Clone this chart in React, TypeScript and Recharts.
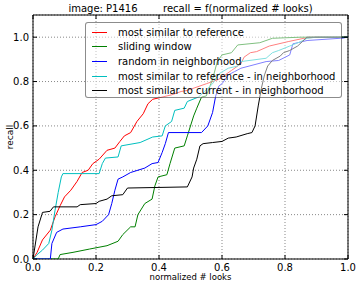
import React from 'react';
import {
  LineChart,
  Line,
  XAxis,
  YAxis,
  CartesianGrid,
  ReferenceArea,
  ReferenceLine,
} from 'recharts';

const TICKS = [0, 0.2, 0.4, 0.6, 0.8, 1.0];

const refX = [0, 0.013, 0.03, 0.055, 0.07, 0.086, 0.1, 0.12, 0.14, 0.156, 0.175, 0.19, 0.21, 0.235, 0.26, 0.276, 0.29, 0.31, 0.33, 0.35, 0.365, 0.38, 0.41, 0.44, 0.47, 0.49, 0.55, 0.59, 0.63, 0.66, 0.67, 0.69, 0.71, 0.75, 0.81, 0.86, 0.9, 1.0];
const refY = [0, 0.03, 0.086, 0.13, 0.19, 0.24, 0.28, 0.31, 0.35, 0.39, 0.4, 0.43, 0.45, 0.49, 0.5, 0.53, 0.555, 0.57, 0.62, 0.655, 0.7, 0.72, 0.73, 0.74, 0.755, 0.76, 0.79, 0.81, 0.85, 0.88, 0.91, 0.93, 0.935, 0.96, 0.98, 0.995, 1.0, 1.0];

const slideX = [0, 0.08, 0.086, 0.127, 0.18, 0.235, 0.27, 0.285, 0.31, 0.324, 0.333, 0.355, 0.378, 0.387, 0.397, 0.425, 0.435, 0.45, 0.48, 0.49, 0.51, 0.52, 0.535, 0.55, 0.57, 0.585, 0.6, 0.63, 0.65, 0.72, 0.76, 0.85, 1.0];
const slideY = [0, 0, 0.02, 0.03, 0.045, 0.06, 0.08, 0.11, 0.145, 0.145, 0.2, 0.25, 0.27, 0.33, 0.37, 0.38, 0.43, 0.5, 0.51, 0.555, 0.645, 0.68, 0.73, 0.735, 0.81, 0.89, 0.92, 0.93, 0.965, 0.975, 0.995, 1.0, 1.0];

const randX = [0, 0.055, 0.06, 0.075, 0.095, 0.15, 0.2, 0.22, 0.24, 0.25, 0.26, 0.27, 0.285, 0.31, 0.355, 0.378, 0.397, 0.41, 0.42, 0.43, 0.535, 0.555, 0.57, 0.58, 0.59, 0.6, 0.62, 0.64, 0.66, 0.74, 0.78, 0.815, 0.825, 0.87, 0.975, 1.0];
const randY = [0, 0, 0.07, 0.12, 0.135, 0.145, 0.155, 0.17, 0.2, 0.25, 0.31, 0.36, 0.37, 0.39, 0.41, 0.43, 0.435, 0.48, 0.52, 0.57, 0.57, 0.6, 0.66, 0.735, 0.78, 0.79, 0.83, 0.845, 0.86, 0.89, 0.895, 0.92, 0.97, 0.985, 0.995, 1.0];

const refNbX = [0, 0.013, 0.03, 0.05, 0.06, 0.07, 0.08, 0.09, 0.095, 0.21, 0.22, 0.23, 0.27, 0.28, 0.34, 0.38, 0.41, 0.42, 0.44, 0.45, 0.48, 0.49, 0.525, 0.545, 0.57, 0.59, 0.62, 0.65, 0.66, 0.74, 0.76, 0.78, 0.815, 0.85, 0.87, 0.9, 1.0];
const refNbY = [0, 0.02, 0.04, 0.07, 0.13, 0.22, 0.3, 0.37, 0.385, 0.385, 0.43, 0.455, 0.46, 0.51, 0.525, 0.55, 0.555, 0.6, 0.62, 0.67, 0.68, 0.71, 0.73, 0.755, 0.79, 0.835, 0.86, 0.87, 0.89, 0.905, 0.93, 0.94, 0.96, 0.98, 0.995, 1.0, 1.0];

const curNbX = [0, 0.016, 0.028, 0.03, 0.054, 0.065, 0.14, 0.15, 0.2, 0.21, 0.235, 0.25, 0.285, 0.3, 0.49, 0.505, 0.51, 0.52, 0.53, 0.54, 0.57, 0.6, 0.62, 0.645, 0.68, 0.695, 0.705, 0.715, 0.725, 0.735, 0.745, 0.76, 0.785, 0.795, 0.815, 0.84, 0.855, 0.87, 1.0];
const curNbY = [0, 0.145, 0.2, 0.21, 0.215, 0.235, 0.235, 0.245, 0.25, 0.26, 0.27, 0.285, 0.29, 0.32, 0.325, 0.37, 0.41, 0.45, 0.51, 0.52, 0.525, 0.53, 0.545, 0.55, 0.565, 0.57, 0.6, 0.69, 0.77, 0.83, 0.87, 0.895, 0.915, 0.93, 0.94, 0.96, 0.98, 1.0, 1.0];

const toPoints = (xs: number[], ys: number[]) => xs.map((x, i) => ({ x, y: ys[i] }));

const SERIES = [
  { name: 'most similar to reference', color: '#ff0000', data: toPoints(refX, refY) },
  { name: 'sliding window', color: '#008000', data: toPoints(slideX, slideY) },
  { name: 'random in neighborhood', color: '#0000ff', data: toPoints(randX, randY) },
  { name: 'most similar to reference - in neighborhood', color: '#00bfbf', data: toPoints(refNbX, refNbY) },
  { name: 'most similar to current - in neighborhood', color: '#000000', data: toPoints(curNbX, curNbY) },
];

const FONT = '"DejaVu Sans", sans-serif';
const Y_MAX = 1.1;
const TX = 0.0127; // ~4px in x units
const TY = 0.0182; // ~4px in y units

export default function App() {
  return (
    <div style={{ position: 'absolute', left: 0, top: 0, width: 360, height: 288, background: '#fff', fontFamily: FONT }}>
      <LineChart
        width={360}
        height={288}
        margin={{ top: 15, right: 12, bottom: 0, left: 0 }}
      >
        <CartesianGrid stroke="#555" strokeDasharray="1 2" strokeWidth={0.7} />
        <XAxis
          type="number"
          dataKey="x"
          domain={[0, 1]}
          ticks={TICKS}
          tickFormatter={(v: number) => v.toFixed(1)}
          height={29}
          tickSize={0}
          tickMargin={5}
          tickLine={false}
          axisLine={false}
          allowDataOverflow
          tick={{ fill: '#000', fontSize: 10, fontFamily: FONT }}
        />
        <YAxis
          type="number"
          dataKey="y"
          domain={[0, Y_MAX]}
          ticks={TICKS}
          tickFormatter={(v: number) => v.toFixed(1)}
          width={33}
          tickSize={0}
          tickMargin={4}
          tickLine={false}
          axisLine={false}
          allowDataOverflow
          tick={{ fill: '#000', fontSize: 10, fontFamily: FONT }}
        />
        {SERIES.map((s) => (
          <Line
            key={s.name}
            data={s.data}
            dataKey="y"
            type="linear"
            stroke={s.color}
            strokeWidth={1}
            dot={false}
            activeDot={false}
            isAnimationActive={false}
          />
        ))}
        {TICKS.map((t) => (
          <ReferenceLine key={`b${t}`} segment={[{ x: t, y: 0 }, { x: t, y: TY }]} stroke="#000" />
        ))}
        {TICKS.map((t) => (
          <ReferenceLine key={`t${t}`} segment={[{ x: t, y: Y_MAX }, { x: t, y: Y_MAX - TY }]} stroke="#000" />
        ))}
        {TICKS.map((t) => (
          <ReferenceLine key={`l${t}`} segment={[{ x: 0, y: t }, { x: TX, y: t }]} stroke="#000" />
        ))}
        {TICKS.map((t) => (
          <ReferenceLine key={`r${t}`} segment={[{ x: 1, y: t }, { x: 1 - TX, y: t }]} stroke="#000" />
        ))}
        <ReferenceArea x1={0} x2={1} y1={0} y2={Y_MAX} stroke="#000" strokeWidth={1} fill="none" fillOpacity={0} />
      </LineChart>

      <div style={{ position: 'absolute', left: 33, width: 315, top: 3, textAlign: 'center', fontSize: 10, whiteSpace: 'pre' }}>
        {'image: P1416        recall = f(normalized # looks)'}
      </div>
      <div style={{ position: 'absolute', left: 33, width: 315, top: 272, textAlign: 'center', fontSize: 8.5 }}>
        normalized # looks
      </div>
      <div
        style={{
          position: 'absolute',
          left: 10,
          top: 137,
          fontSize: 9,
          transform: 'translate(-50%, -50%) rotate(-90deg)',
          whiteSpace: 'nowrap',
        }}
      >
        recall
      </div>

      <div
        style={{
          position: 'absolute',
          left: 85,
          top: 22,
          width: 257,
          height: 76,
          background: 'rgba(255,255,255,0.5)',
          border: '1px solid rgba(0,0,0,0.45)',
          borderRadius: 3,
          boxSizing: 'border-box',
          paddingTop: 2,
        }}
      >
        {SERIES.map((s) => (
          <div key={s.name} style={{ display: 'flex', alignItems: 'center', height: 14.6, fontSize: 10 }}>
            <span style={{ display: 'inline-block', marginLeft: 6, width: 15, height: 1, background: s.color }} />
            <span style={{ marginLeft: 11, whiteSpace: 'nowrap' }}>{s.name}</span>
          </div>
        ))}
      </div>
    </div>
  );
}
